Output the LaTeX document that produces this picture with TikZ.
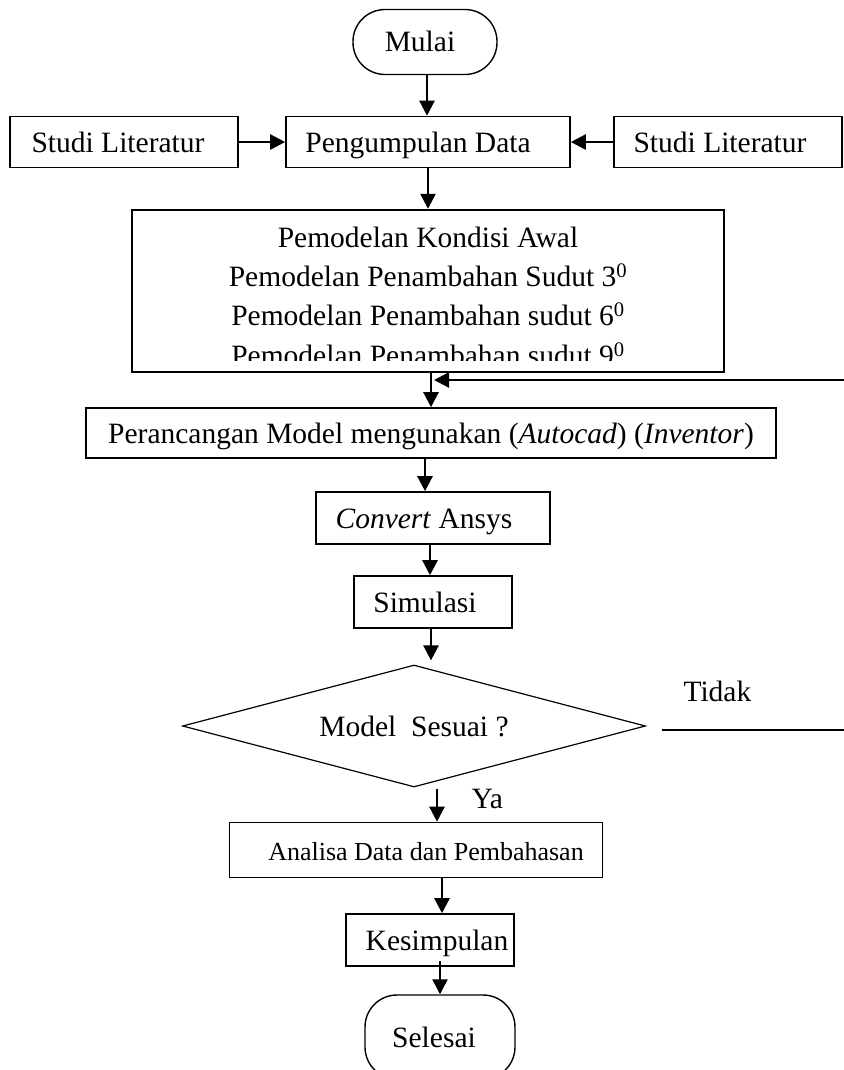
\documentclass[tikz,border=0pt]{standalone}
\usepackage{fontspec}
\setmainfont{Liberation Serif}
\usetikzlibrary{positioning,arrows.meta,shapes.geometric}

\begin{document}
\begin{tikzpicture}[x=1pt, y=-1pt,
    terminal/.style={rectangle, rounded corners=32pt, draw=black, line width=1.4pt, inner sep=0pt, text height=26pt, text depth=6pt},
    process/.style={rectangle, draw=black, line width=1.6pt, inner sep=0pt, text height=26pt, text depth=6pt},
    decision/.style={diamond, aspect=3.8, draw=black, line width=1.2pt, inner sep=0pt},
    arrow/.style={-{Triangle[length=15pt, width=15pt]}, line width=2.4pt},
    font=\fontsize{29.5}{39}\selectfont
]
\useasboundingbox (0,0) rectangle (843,1070);

% --- START ---
\node[terminal, minimum width=144pt, minimum height=65pt] (mulai) at (425,42) {Mulai\kern10pt};

% --- DATA COLLECTION ROW ---
\node[process, minimum width=228pt, minimum height=51pt] (studiL) at (124,142) {Studi Literatur\kern12pt};
\node[process, minimum width=284pt, minimum height=51pt] (data)   at (428,142) {Pengumpulan Data\kern20pt};
\node[process, minimum width=228pt, minimum height=51pt] (studiR) at (728,142) {Studi Literatur\kern16pt};

% --- MODELLING BOX (last line cut by the frame) ---
\node[process, line width=2.4pt, minimum width=592pt, minimum height=162pt] (model) at (428,291) {};
\begin{scope}
\clip (model.north west) rectangle ([yshift=13pt]model.south east);
\node[anchor=base] (modelA) at ([yshift=-39pt]model.north)  {Pemodelan Kondisi Awal};
\node[anchor=base] (modelB) at ([yshift=-78pt]model.north)  {Pemodelan Penambahan Sudut 3\textsuperscript{0}};
\node[anchor=base] (modelC) at ([yshift=-117pt]model.north) {Pemodelan Penambahan sudut 6\textsuperscript{0}};
\node[anchor=base] (modelD) at ([yshift=-157pt]model.north) {Pemodelan Penambahan sudut 9\textsuperscript{0}};
\end{scope}

% --- PROCESS CHAIN ---
\node[process, minimum width=690pt, minimum height=50pt] (rancang) at (431,433) {Perancangan Model mengunakan (\textit{Autocad}) (\textit{Inventor})};
\node[process, minimum width=234pt, minimum height=52pt] (convert) at (433,518) {\textit{Convert} Ansys\kern18pt};
\node[process, minimum width=158pt, minimum height=52pt] (simulasi) at (433,602) {Simulasi\kern16pt};
\node[decision, minimum width=463pt, minimum height=122pt] (sesuai) at (414,726) {Model\ \ Sesuai ?};
\node[process, minimum width=373pt, minimum height=55pt, font=\fontsize{26}{30}\selectfont] (analisa) at (416,850) {\kern20pt Analisa Data dan Pembahasan};
\node[process, minimum width=168pt, minimum height=52pt] (kesimpulan) at (430,940) {\kern14pt Kesimpulan};

% --- END ---
\node[terminal, minimum width=150pt, minimum height=84pt] (selesai) at (440,1037) {Selesai\kern12pt};

% --- BRANCH LABELS ---
\node[anchor=base west] (tidak) at (680,701) {Tidak};
\node[anchor=base west] (ya)    at (468,808) {Ya};

% --- ARROWS ---
\draw[arrow] ([xshift=2pt]mulai.south) -- ([xshift=2pt]mulai.south |- data.north);
\draw[arrow] (studiL) -- (data);
\draw[arrow] (studiR) -- (data);
\draw[arrow] (data) -- (model);
\draw[arrow] ([xshift=3pt]model.south) -- ([xshift=3pt]model.south |- rancang.north);
\draw[arrow] ([xshift=-6pt]rancang.south) -- ([xshift=-6pt]rancang.south |- convert.north);
\draw[arrow] ([xshift=-3pt]convert.south) -- ([xshift=-3pt]convert.south |- simulasi.north);
\draw[arrow] ([xshift=-2pt]simulasi.south) -- ([xshift=-2pt, yshift=4pt]simulasi.south |- sesuai.north);
\draw[arrow] ([xshift=23pt, yshift=-1pt]sesuai.south) -- ([xshift=23pt]sesuai.south |- analisa.north);
\draw[arrow] ([xshift=26pt]analisa.south) -- ([xshift=26pt]analisa.south |- kesimpulan.north);
\draw[arrow] ([xshift=10pt, yshift=6pt]kesimpulan.south) -- ([xshift=10pt]kesimpulan.south |- selesai.north);

% --- FEEDBACK: Tidak -> back to modelling ---
\coordinate (fbstart) at (662,730);
\coordinate (fbend)   at (434,380);
\draw[arrow] (fbstart) -- ++(230,0) |- (fbend);

\end{tikzpicture}
\end{document}
